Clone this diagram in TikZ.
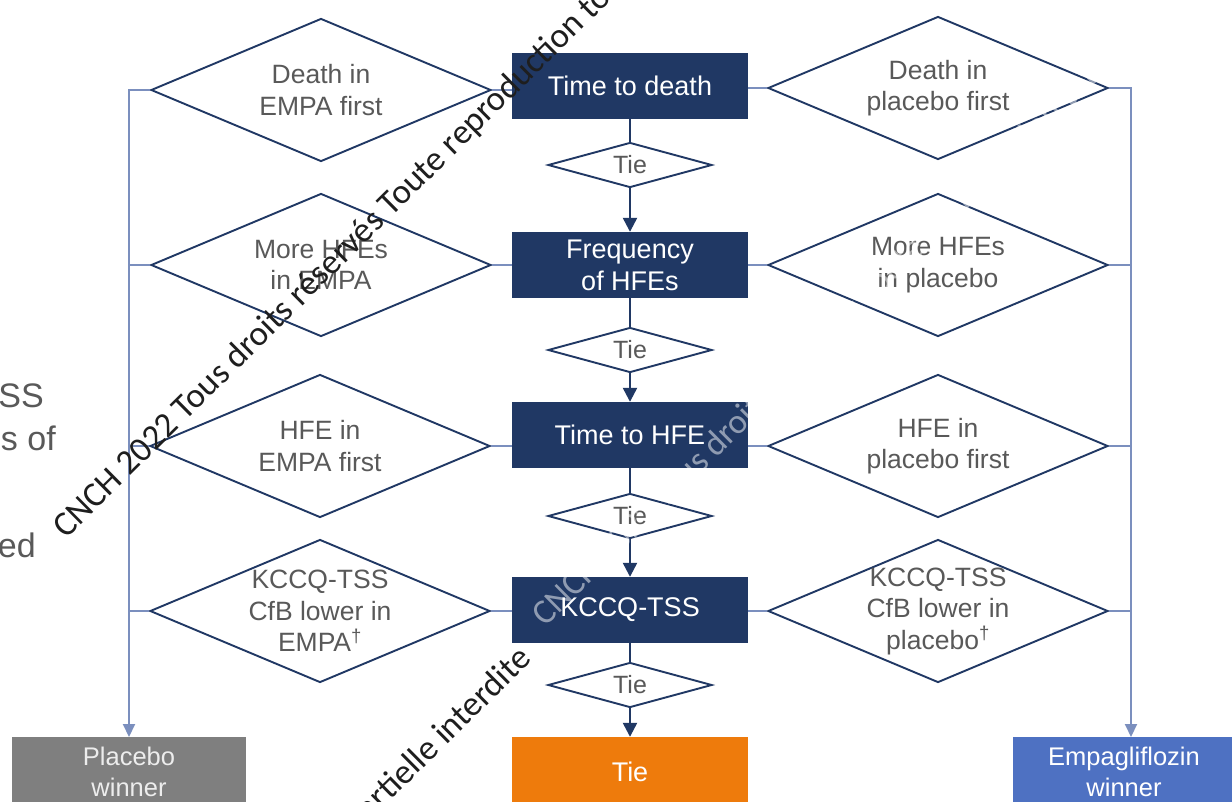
\documentclass[tikz,border=0pt]{standalone}
\usepackage{fontspec}
\setmainfont{Liberation Sans}
\newfontfamily\wmfont{Carlito}
\usetikzlibrary{shapes.geometric,arrows.meta}
\definecolor{navy}{HTML}{203864}
\definecolor{railc}{HTML}{7B8FBE}
\definecolor{txtgray}{HTML}{595959}
\definecolor{orng}{HTML}{EE7B0C}
\definecolor{wingray}{HTML}{7F7F7F}
\definecolor{winblue}{HTML}{4E71C2}
\definecolor{wmark}{HTML}{1E1E1E}
\begin{document}
\begin{tikzpicture}[x=1pt,y=-1pt,
  mainbox/.style={fill=navy, draw=none, minimum width=236pt, minimum height=66pt,
    inner sep=0pt, text=white, font=\fontsize{27}{32}\selectfont, align=center},
  dtext/.style={font=\fontsize{26.5}{31.5}\selectfont, text=txtgray, align=center, inner sep=0pt},
  decision/.style={diamond, draw=navy, line width=1.9pt, minimum width=340pt,
    minimum height=143pt, inner sep=0pt, aspect=2.37},
  tiedia/.style={diamond, draw=navy, line width=1.9pt, minimum width=164pt,
    minimum height=45pt, inner sep=0pt, aspect=3.6,
    label={[font=\fontsize{25}{28}\selectfont, text=txtgray]center:Tie}},
  navyline/.style={draw=navy, line width=2.4pt},
  navyarrow/.style={draw=navy, line width=2.4pt, -{Triangle[width=14pt,length=14pt]}},
  railline/.style={draw=railc, line width=2pt},
  railarrow/.style={draw=railc, line width=2pt, -{Triangle[width=12pt,length=13pt]}},
  winbox/.style={draw=none, minimum height=70pt, inner sep=0pt, align=center,
    font=\fontsize{25.5}{31}\selectfont},
  frag/.style={font=\fontsize{34}{40}\selectfont, text=txtgray, inner sep=0pt},
  wm/.style={font=\wmfont\fontsize{35}{35}\selectfont, inner sep=0pt, rotate=44.7}
]
\useasboundingbox (0,0) rectangle (1232,801);
\fill[white] (0,0) rectangle (1232,801);

% central column
\node[mainbox] (d) at (630,86) {Time to death};
\node[mainbox] (f) at (630,265) {Frequency\\of HFEs};
\node[mainbox] (h) at (630,435) {Time to HFE};
\node[mainbox] (k) at (630,610) {KCCQ-TSS};
\node[mainbox, fill=orng, minimum height=70pt] (t) at (630,772) {Tie};

\node[tiedia] (t1) at (630,165) {};
\node[tiedia] (t2) at (630,350) {};
\node[tiedia] (t3) at (630,516) {};
\node[tiedia] (t4) at (630,685) {};

% left decisions
\node[decision, label={[dtext]center:Death in\\EMPA first}] (l1) at (321,90) {};
\node[decision, label={[dtext]center:More HFEs\\in EMPA}] (l2) at (321,265) {};
\node[decision, label={[dtext]center:HFE in\\EMPA first}] (l3) at (320,446) {};
\node[decision, label={[dtext]center:KCCQ-TSS\\CfB lower in\\EMPA\textsuperscript{†}}] (l4) at (320,611) {};

% right decisions
\node[decision, label={[dtext]center:Death in\\placebo first}] (r1) at (938,88) {};
\node[decision, label={[dtext]center:More HFEs\\in placebo}] (r2) at (938,265) {};
\node[decision, label={[dtext]center:HFE in\\placebo first}] (r3) at (938,446) {};
\node[decision, label={[dtext]center:KCCQ-TSS\\CfB lower in\\placebo\textsuperscript{†}}] (r4) at (938,611) {};

% winners
\node[winbox, fill=wingray, text=white!93!black, minimum width=234pt] (pw) at (129,772) {Placebo\\winner};
\node[winbox, fill=winblue, text=white, minimum width=222pt] (ew) at (1124,772) {Empagliflozin\\winner};

\coordinate (lr) at (129,737);
\coordinate (rr) at (1131,737);

% central connectors
\draw[navyline] (d.south) -- (t1.north);
\draw[navyarrow] (t1.south) -- (f.north);
\draw[navyline] (f.south) -- (t2.north);
\draw[navyarrow] (t2.south) -- (h.north);
\draw[navyline] (h.south) -- (t3.north);
\draw[navyarrow] (t3.south) -- (k.north);
\draw[navyline] (k.south) -- (t4.north);
\draw[navyarrow] (t4.south) -- (t.north);

% stubs box <-> decisions
\draw[railline] (l1.east) -- (l1.east -| d.west);
\draw[railline] (l2.east) -- (l2.east -| f.west);
\draw[railline] (l3.east) -- (l3.east -| h.west);
\draw[railline] (l4.east) -- (l4.east -| k.west);
\draw[railline] (r1.west) -- (r1.west -| d.east);
\draw[railline] (r2.west) -- (r2.west -| f.east);
\draw[railline] (r3.west) -- (r3.west -| h.east);
\draw[railline] (r4.west) -- (r4.west -| k.east);

% rails
\draw[railarrow] (l1.west) -| (lr);
\draw[railline] (l2.west) -- (l2.west -| lr);
\draw[railline] (l3.west) -- (l3.west -| lr);
\draw[railline] (l4.west) -- (l4.west -| lr);
\draw[railarrow] (r1.east) -| (rr);
\draw[railline] (r2.east) -- (r2.east -| rr);
\draw[railline] (r3.east) -- (r3.east -| rr);
\draw[railline] (r4.east) -- (r4.east -| rr);

% text fragments cut at the left edge
\node[frag, anchor=base east] (s1) at (44,407) {SS};
\node[frag, anchor=base east] (s2) at (56,450) {s of};
\node[frag, anchor=base east] (s3) at (36,557) {ed};

% watermarks
\node[wm, text=white, text opacity=0.5, anchor=base west] (wm3) at (545,628)
  {CNCH 2022 Tous droits réservés Toute reproduction totale ou partielle interdite};
\node[wm, text=wmark, anchor=base west] (wm1) at (66,540)
  {CNCH 2022 Tous droits réservés Toute reproduction totale ou partielle interdite};
\node[wm, text=wmark, anchor=base east] (wm2) at (533,660)
  {CNCH 2022 Tous droits réservés Toute reproduction totale ou partielle interdite};
\end{tikzpicture}
\end{document}
